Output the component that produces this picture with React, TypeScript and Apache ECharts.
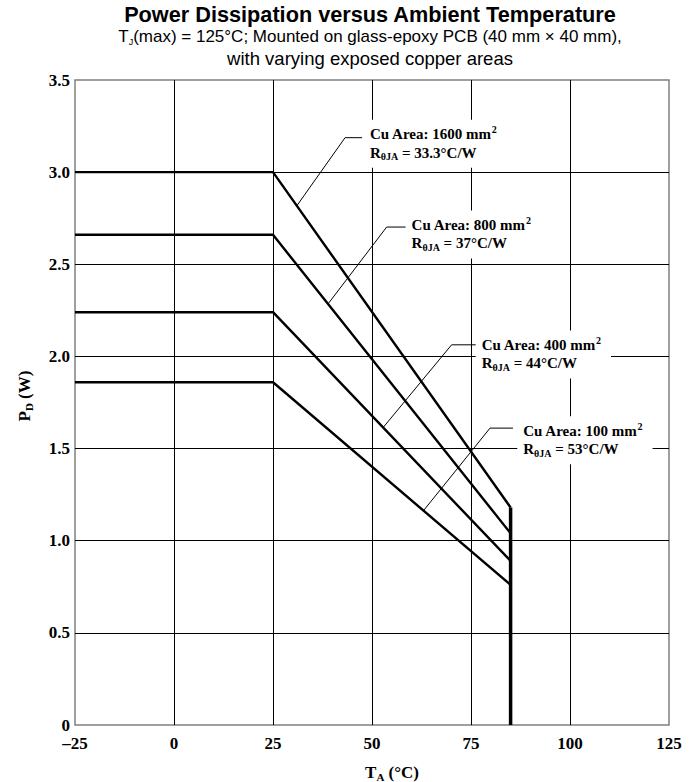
import React, { useEffect, useRef } from "react";
import * as echarts from "echarts";

// ---- data ----
const xTickValues = [-25, 0, 25, 50, 75, 100, 125];
const xTickLabels = ["\u201325", "0", "25", "50", "75", "100", "125"];
const yTickValues = [0, 0.5, 1.0, 1.5, 2.0, 2.5, 3.0, 3.5];
const yTickLabels = ["0", "0.5", "1.0", "1.5", "2.0", "2.5", "3.0", "3.5"];

const copperAreas = ["1600", "800", "400", "100"];
const thetaJA = ["33.3", "37", "44", "53"];
const startTemp = -25;
const kneeTemp = 25;
const cutoffTemp = 85;
const flatPower = [3.0, 2.66, 2.24, 1.86];
const powerAtCutoff = [1.18, 1.04, 0.89, 0.76];

// leader lines (data coords): point on curve, knee, end at label
const leaderCurvePts = [[31.0, 2.817], [38.9, 2.285], [52.8, 1.614], [63.0, 1.163]];
const leaderKnees = [[43.2, 3.187], [53.7, 2.702], [70.1, 2.063], [79.8, 1.611]];
const leaderEnds = [[47.5, 3.187], [58.75, 2.702], [76.4, 2.063], [85.6, 1.611]];
// label text top-left anchors (data coords)
const labelAnchors = [[49.5, 3.257], [60.0, 2.765], [77.7, 2.113], [88.2, 1.648]];

const SERIF = "'Liberation Serif', 'Times New Roman', serif";
const SANS = "'Liberation Sans', Arial, sans-serif";

export default function App() {
  const ref = useRef<HTMLDivElement>(null);
  useEffect(() => {
    if (!ref.current) return;
    const chart = echarts.init(ref.current, null, { renderer: "svg" });

    const axisLabelStyle = {
      color: "#000",
      fontFamily: SERIF,
      fontWeight: "bold" as const,
      fontSize: 17,
    };

    const series: any[] = [];
    copperAreas.forEach((a, i) => {
      series.push({
        type: "line",
        name: a,
        data: [
          [startTemp, flatPower[i]],
          [kneeTemp, flatPower[i]],
          [cutoffTemp, powerAtCutoff[i]],
        ],
        symbol: "none",
        lineStyle: { color: "#000", width: 2.4 },
        z: 5,
      });
    });
    series.push({
      type: "line",
      data: [
        [cutoffTemp, 0],
        [cutoffTemp, Math.max(...powerAtCutoff)],
      ],
      symbol: "none",
      lineStyle: { color: "#000", width: 3.5 },
      z: 5,
    });
    copperAreas.forEach((a, i) => {
      series.push({
        type: "line",
        data: [leaderCurvePts[i], leaderKnees[i], leaderEnds[i]],
        symbol: "none",
        lineStyle: { color: "#000", width: 1 },
        z: 6,
      });
    });

    chart.setOption({
      animation: false,
      grid: {
        left: 75,
        right: 22,
        top: 80,
        bottom: 57,
        show: true,
        borderColor: "#808080",
        borderWidth: 1.5,
        backgroundColor: "transparent",
      },
      xAxis: {
        type: "value",
        min: -25,
        max: 125,
        interval: 25,
        axisLine: { show: false },
        axisTick: { show: false },
        splitLine: {
          show: true,
          showMinLine: false,
          showMaxLine: false,
          lineStyle: { color: "#000", width: 1 },
        },
        axisLabel: {
          ...axisLabelStyle,
          margin: 10,
          formatter: (v: number) => {
            const k = xTickValues.indexOf(v);
            return k >= 0 ? xTickLabels[k] : "";
          },
        },
      },
      yAxis: {
        type: "value",
        min: 0,
        max: 3.5,
        interval: 0.5,
        axisLine: { show: false },
        axisTick: { show: false },
        splitLine: {
          show: true,
          showMinLine: false,
          showMaxLine: false,
          lineStyle: { color: "#000", width: 1 },
        },
        axisLabel: {
          ...axisLabelStyle,
          margin: 5,
          formatter: (v: number) => {
            const k = yTickValues.findIndex((t) => Math.abs(t - v) < 1e-9);
            return k >= 0 ? yTickLabels[k] : "";
          },
        },
      },
      series,
    });

    const px = (p: number[]) => chart.convertToPixel({ gridIndex: 0 }, p) as number[];

    const annRich = {
      a: { fontFamily: SERIF, fontWeight: "bold", fontSize: 15, lineHeight: 18.5, fill: "#000" },
      sup: { fontFamily: SERIF, fontWeight: "bold", fontSize: 10, lineHeight: 10, verticalAlign: "top", fill: "#000" },
      sub: { fontFamily: SERIF, fontWeight: "bold", fontSize: 10, lineHeight: 10, verticalAlign: "bottom", fill: "#000" },
    };
    const pad = [5, 10, 6, 6];

    const graphics: any[] = [];
    copperAreas.forEach((a, i) => {
      const p = px(labelAnchors[i]);
      graphics.push({
        type: "text",
        x: p[0] - pad[3],
        y: p[1] - pad[0],
        z: 100,
        style: {
          text: `{a|Cu Area: ${a} mm}{sup|2}\n{a|R}{sub|\u03B8JA}{a| = ${thetaJA[i]}\u00B0C/W}`,
          rich: annRich,
          backgroundColor: "#fff",
          padding: pad,
          align: "left",
          verticalAlign: "top",
        },
      });
    });

    const titleCx = 370;
    graphics.push({
      type: "text",
      x: titleCx,
      y: 14,
      style: {
        text: "Power Dissipation versus Ambient Temperature",
        font: `bold 21.7px ${SANS}`,
        fill: "#000",
        align: "center",
        verticalAlign: "middle",
      },
    });
    const subRich = {
      s: { fontFamily: SANS, fontSize: 17, fill: "#000", lineHeight: 20 },
      j: { fontFamily: SANS, fontSize: 9, fill: "#000", lineHeight: 9, verticalAlign: "bottom" },
    };
    graphics.push({
      type: "text",
      x: titleCx,
      y: 36,
      style: {
        text: "{s|T}{j|J}{s|(max) = 125\u00B0C; Mounted on glass-epoxy PCB (40 mm \u00D7 40 mm),}",
        rich: subRich,
        align: "center",
        verticalAlign: "middle",
      },
    });
    graphics.push({
      type: "text",
      x: titleCx,
      y: 58,
      style: {
        text: "with varying exposed copper areas",
        font: `18.5px ${SANS}`,
        fill: "#000",
        align: "center",
        verticalAlign: "middle",
      },
    });

    const nameRich = {
      a: { fontFamily: SERIF, fontWeight: "bold", fontSize: 17, lineHeight: 20, fill: "#000" },
      sub: { fontFamily: SERIF, fontWeight: "bold", fontSize: 11, lineHeight: 11, verticalAlign: "bottom", fill: "#000" },
    };
    graphics.push({
      type: "text",
      x: 392,
      y: 772,
      style: {
        text: "{a|T}{sub|A}{a| (\u00B0C)}",
        rich: nameRich,
        align: "center",
        verticalAlign: "middle",
      },
    });
    graphics.push({
      type: "text",
      x: 24,
      y: 396,
      rotation: Math.PI / 2,
      style: {
        text: "{a|P}{sub|D}{a| (W)}",
        rich: nameRich,
        align: "center",
        verticalAlign: "middle",
      },
    });

    chart.setOption({ graphic: graphics });

    return () => chart.dispose();
  }, []);

  return (
    <div
      ref={ref}
      style={{ position: "fixed", left: 0, top: 0, width: 691, height: 782, background: "#fff" }}
    />
  );
}
